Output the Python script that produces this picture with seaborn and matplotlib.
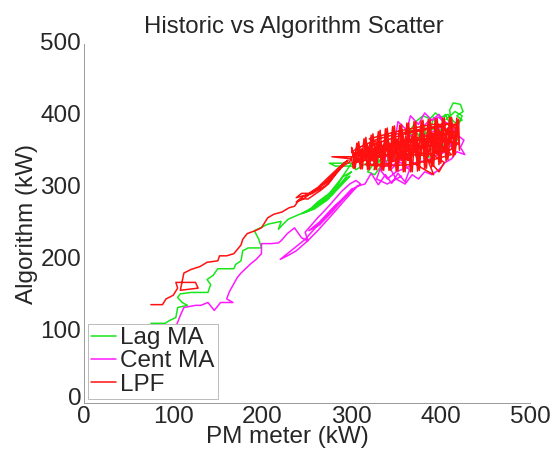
import matplotlib
matplotlib.use("Agg")
import matplotlib.pyplot as plt
import matplotlib.transforms as mtransforms
import seaborn as sns
import pandas as pd

series_names = ["Lag MA", "Cent MA", "LPF"]
series_colors = ["#19e619", "#ff19ff", "#ff1111"]

lag_pts = [
    (75,111),(91,111),(96,115),(103,119),(105,133),(116,136),(110,140),(105,147),(108,152),(120,154),
    (139,154),(142,165),(138,172),(145,178),(150,187),(168,187),(170,193),(176,198),(178,212),(184,216),
    (199,216),(196,228),(191,240),(206,249),(221,253),(218,242),(224,250),(229,256),(240,262),(251,267),
    (262,276),(274,285),(280,296),(285,305),(290,315),(300,322),
    (296,318),(284,300),(270,285),(256,272),(244,264),(258,270),(272,282),(286,300),(298,316),
    (290,308),(278,290),(265,278),(252,268),(262,280),(275,292),(288,312),(300,334),(275,334),(282,330),(300,330),
    (305,325),(318,335),(312,345),(330,340),(325,325),(340,355),(350,335),(345,368),(360,350),(365,380),
    (372,355),(380,392),(385,365),(392,398),(398,372),(405,402),(412,385),(410,408),(414,418),(422,416),
    (425,406),(418,400),(424,394),(416,390),(408,402),(400,398),(394,404),(388,396),(380,400),(372,392),
    (366,380),(378,372),(392,382),(404,375),(414,380),(420,368),(410,358),(398,362),(388,352),(376,358),
    (366,348),(354,355),(344,342),(334,332),(326,318),(318,322),(328,338),(340,332),(352,345),(362,340),
    (374,348),(386,342),(398,350),(408,365),(418,382),(424,400),(416,406),(406,395),
]

cent_pts = [
    (98,90),(103,106),(108,122),(112,133),(125,136),(131,136),(139,140),(146,129),(150,135),(153,140),
    (160,140),(167,140),(160,145),(163,155),(168,166),(172,175),(176,181),(182,188),(187,194),(193,200),
    (199,208),(199,222),(210,222),(218,223),(221,226),(228,236),(236,244),(244,230),(251,226),(248,238),
    (255,248),(262,258),(266,263),(275,275),(282,285),(289,295),(298,305),(305,310),
    (310,305),(295,290),(282,275),(270,258),(258,242),(248,228),(238,218),(228,208),(220,200),(228,205),
    (238,212),(250,225),(262,240),(278,262),(292,282),(305,300),
    (300,298),(288,282),(276,268),(264,252),(252,240),(264,248),(278,266),(292,286),(306,302),(315,305),
    (322,320),(330,304),(338,318),(345,306),(352,320),(360,308),(365,325),(355,335),(340,330),(335,350),
    (348,360),(352,392),(362,380),(366,400),(375,388),(382,404),(390,394),(398,402),(404,392),(410,388),
    (415,380),(420,372),(426,366),(422,356),(427,346),(418,350),(412,340),(405,335),(398,325),(390,318),
    (382,322),(375,312),(368,318),(360,305),(350,312),(344,325),(356,340),(366,350),(378,358),(390,365),
    (402,372),(412,360),(406,350),(395,345),(385,338),(372,335),(362,328),(350,322),(340,312),(332,325),
    (346,338),(358,348),(370,362),(382,372),(394,380),(406,388),(398,398),(386,392),(376,380),(366,372),
    (354,362),(344,350),(336,340),(328,312),(340,305),(356,316),
]

lpf_pts = [
    (75,137),(88,137),(92,145),(100,150),(105,160),(103,168),(125,168),(128,160),(108,157),(112,181),
    (120,186),(130,190),(138,196),(150,198),(152,205),(160,205),(168,208),(172,214),(176,220),(178,228),
    (183,236),(192,240),(199,244),(203,252),(206,258),(213,263),(222,266),(230,272),(236,274),(240,281),
    (244,285),(251,284),(258,290),(265,296),(274,305),(280,315),(285,327),(290,330),
    (282,318),(270,302),(256,292),(246,288),(238,280),(246,284),(258,296),(270,306),(282,322),(292,335),
    (296,338),(284,326),(272,312),(262,300),(252,292),(244,292),(238,286),(250,290),(262,298),(276,312),
    (288,328),(298,336),
    (300,343),(278,343),(300,340),
    (302,327),(306,362),(310,326),(314,368),(318,325),(322,373),(326,325),(330,378),(334,324),(338,382),
    (342,324),(346,385),(350,323),(354,387),(358,322),(362,390),(366,322),(370,392),(374,323),(378,393),
    (382,326),(386,395),(390,329),(394,396),(398,332),(402,397),(406,337),(410,398),(414,343),(418,397),
    (421,352),
    (420,395),(416,346),(412,398),(408,339),(404,397),(400,334),(396,396),(392,330),(388,395),(384,327),
    (380,394),(376,324),(372,392),(368,322),(364,390),(360,322),(356,388),(352,323),(348,386),(344,324),
    (340,383),(336,324),(332,380),(328,325),(324,375),(320,325),(316,370),(312,326),(308,364),(304,327),
    (300,356),
    (303,336),(308,352),(313,338),(318,359),(323,337),(328,362),(333,339),(338,367),(343,338),(348,370),
    (353,339),(358,372),(363,338),(368,373),(373,341),(378,377),(383,343),(388,379),(393,348),(398,381),
    (403,350),(408,383),(413,356),(418,385),
    (416,362),(411,380),(406,352),(401,378),(396,346),(391,376),(386,344),(381,374),(376,340),(371,372),
    (366,339),(361,370),(356,338),(351,368),(346,337),(341,366),(336,338),(331,364),(326,337),(321,360),
    (316,338),(311,354),(306,337),(301,348),
    (305,345),(330,352),(360,362),(390,370),(418,378),(412,390),(385,383),(355,376),(330,368),(312,358),
    (300,350),(320,342),(350,348),(380,345),(410,352),(420,362),(400,366),(370,366),(340,360),(318,350),
    (305,335),(340,345),(380,355),(415,370),(400,385),(360,375),(325,360),(310,348),(350,362),(395,375),
    (418,388),(390,388),(350,378),(320,368),(345,352),(375,330),(392,318),(385,340),(398,322),(404,335),
    (392,345),(370,350),(340,333),(315,332),(335,330),(365,332),(395,340),(412,346),(402,358),(372,358),
    (344,356),(322,346),
]

x_ticks = [0, 100, 200, 300, 400, 500]
y_ticks = [0, 100, 200, 300, 400, 500]

rows = []
for name, pts in zip(series_names, [lag_pts, cent_pts, lpf_pts]):
    for i, (xv, yv) in enumerate(pts):
        rows.append({"series": name, "step": i, "pm": xv, "alg": yv})
df = pd.DataFrame(rows)

sns.set_style("white")
plt.rcParams["font.family"] = ["Liberation Sans", "DejaVu Sans"]

fig = plt.figure(figsize=(5.54, 4.51), dpi=100)
ax = fig.add_axes([0.1516, 0.1064, 0.805, 0.796])

sns.lineplot(data=df, x="pm", y="alg", hue="series", hue_order=series_names,
             palette=series_colors, sort=False, estimator=None, units="series",
             linewidth=1.1, ax=ax, legend=True)

ax.set_xlim(0, 500)
ax.set_ylim(0, 500)
ax.set_xticks(x_ticks)
ax.set_yticks(y_ticks)
ax.tick_params(direction="in", length=3, width=0.6, color="#888888",
               labelsize=17.5, pad=2)
ax.tick_params(axis="x", pad=2.5)
for s in ["top", "right"]:
    ax.spines[s].set_visible(False)
for s in ["left", "bottom"]:
    ax.spines[s].set_color("#999999")
    ax.spines[s].set_linewidth(0.7)

fig.canvas.draw()
for lab in ax.get_yticklabels():
    up = 5.0 if lab.get_text() == "0" else 1.5
    off = mtransforms.ScaledTranslation(0, up / 72, fig.dpi_scale_trans)
    lab.set_transform(lab.get_transform() + off)

ax.set_title("Historic vs Algorithm Scatter", fontsize=17.3, pad=8, x=0.47)
ax.set_xlabel("PM meter (kW)", fontsize=17.5, labelpad=-1.5, x=0.457)
ax.set_ylabel("Algorithm (kW)", fontsize=17.5, labelpad=2)

leg = ax.legend(loc="lower left", fontsize=17.5, frameon=True, fancybox=False,
                framealpha=1, edgecolor="#bbbbbb", borderaxespad=0.15,
                handlelength=1.0, handletextpad=0.2, labelspacing=0.05,
                borderpad=0.15)
leg.get_frame().set_linewidth(0.7)
for h in leg.get_lines():
    h.set_linewidth(1.1)

fig.savefig("out.png", dpi=100)
